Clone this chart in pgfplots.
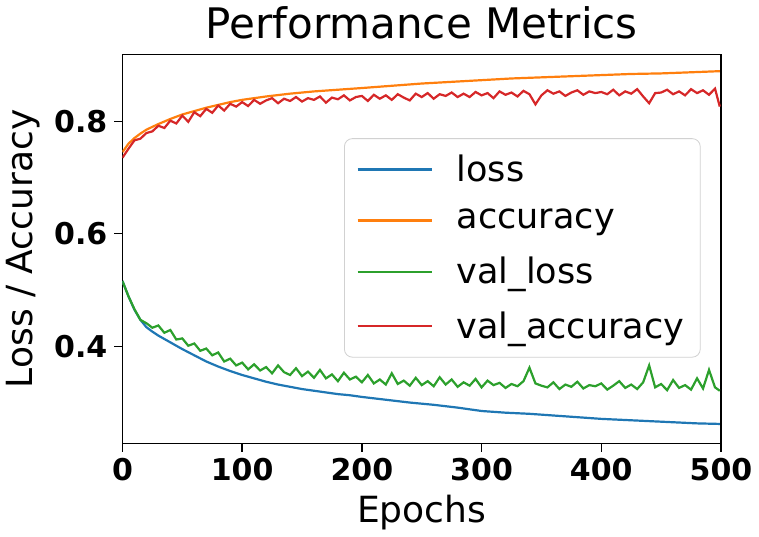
\documentclass[border=0pt]{standalone}
\usepackage{fontspec}
\setmainfont{DejaVu Sans}
\usepackage{pgfplots}
\pgfplotsset{compat=1.18}
\definecolor{tabblue}{HTML}{1F77B4}
\definecolor{taborange}{HTML}{FF7F0E}
\definecolor{tabgreen}{HTML}{2CA02C}
\definecolor{tabred}{HTML}{D62728}

\begin{document}
\begin{tikzpicture}
\begin{axis}[
    scale only axis,
    width=299pt, height=194.5pt,
    xmin=0, xmax=500,
    ymin=0.227, ymax=0.919,
    xtick={0,100,200,300,400,500},
    ytick={0.4,0.6,0.8},
    tick pos=left,
    tick align=outside,
    major tick length=4pt,
    tick style={black, line width=0.7pt},
    axis line style={line width=0.7pt},
    /pgf/number format/assume math mode=true,
    yticklabel style={/pgf/number format/fixed, /pgf/number format/precision=1, /pgf/number format/fixed zerofill},
    ticklabel style={font=\fontsize{15}{15}\selectfont\bfseries},
    title={Performance Metrics},
    title style={font=\fontsize{21}{24}\selectfont, yshift=-2pt},
    xlabel={Epochs},
    ylabel={Loss / Accuracy},
    label style={font=\fontsize{18}{20}\selectfont},
    legend style={at={(0.966,0.221)}, anchor=south east,
        font=\fontsize{17.5}{20}\selectfont,
        draw=black!18, rounded corners=4pt, fill=white, fill opacity=0.8, text opacity=1,
        row sep=8.5pt, inner xsep=6pt, inner ysep=6pt},
    legend cell align=left,
    legend image code/.code={\draw[#1] (0pt,0pt) -- (37pt,0pt); \path (47pt,0pt);},
    every axis plot/.append style={line width=1.1pt},
]

% training loss
\addplot[tabblue] coordinates {
(0,0.516) (5,0.489) (10,0.465) (15,0.447) (20,0.434) (25,0.426) (30,0.419)
(40,0.407) (50,0.395) (60,0.384) (70,0.373) (80,0.364) (90,0.356) (100,0.349)
(110,0.343) (120,0.337) (130,0.332) (140,0.328) (150,0.324) (160,0.321)
(170,0.318) (180,0.315) (190,0.313) (200,0.310) (220,0.305) (240,0.300)
(260,0.296) (280,0.291) (300,0.285) (320,0.282) (340,0.280) (360,0.277)
(380,0.274) (400,0.271) (420,0.269) (440,0.267) (460,0.265) (480,0.263) (499,0.262)
};

% training accuracy
\addplot[taborange] coordinates {
(0,0.745) (5,0.760) (10,0.770) (15,0.778) (20,0.785) (30,0.795) (40,0.804)
(50,0.812) (60,0.818) (70,0.824) (80,0.829) (90,0.834) (100,0.838) (120,0.844)
(140,0.849) (160,0.853) (180,0.856) (200,0.859) (225,0.863) (250,0.867)
(275,0.870) (300,0.873) (325,0.876) (350,0.878) (375,0.880) (400,0.882)
(425,0.884) (450,0.885) (475,0.887) (499,0.889)
};

% validation loss
\addplot[tabgreen] coordinates {
(0,0.516) (5,0.489) (10,0.466) (15,0.447) (20,0.441) (25,0.433) (30,0.437)
(35,0.424) (40,0.429) (45,0.412) (50,0.414) (55,0.401) (60,0.405) (65,0.392)
(70,0.396) (75,0.384) (80,0.389) (85,0.373) (90,0.378) (95,0.366) (100,0.371)
(105,0.359) (110,0.368) (115,0.357) (120,0.363) (125,0.352) (130,0.366)
(135,0.354) (140,0.349) (145,0.361) (150,0.347) (155,0.355) (160,0.344)
(165,0.358) (170,0.343) (175,0.350) (180,0.338) (185,0.353) (190,0.341)
(195,0.346) (200,0.336) (205,0.349) (210,0.334) (215,0.341) (220,0.332)
(225,0.352) (230,0.333) (235,0.339) (240,0.330) (245,0.344) (250,0.331)
(255,0.338) (260,0.329) (265,0.345) (270,0.332) (275,0.341) (280,0.328)
(285,0.336) (290,0.330) (295,0.342) (300,0.327) (305,0.339) (310,0.331)
(315,0.335) (320,0.326) (325,0.333) (330,0.329) (335,0.338) (340,0.362)
(345,0.334) (350,0.330) (355,0.327) (360,0.336) (365,0.324) (370,0.332)
(375,0.328) (380,0.337) (385,0.325) (390,0.331) (395,0.329) (400,0.334)
(405,0.323) (410,0.330) (415,0.338) (420,0.326) (425,0.332) (430,0.324)
(435,0.336) (440,0.366) (445,0.327) (450,0.333) (455,0.322) (460,0.340)
(465,0.326) (470,0.331) (475,0.323) (480,0.343) (485,0.325) (490,0.358)
(495,0.327) (499,0.321)
};

% validation accuracy
\addplot[tabred] coordinates {
(0,0.735) (5,0.751) (10,0.766) (15,0.769) (20,0.779) (25,0.782) (30,0.792)
(35,0.788) (40,0.801) (45,0.796) (50,0.810) (55,0.799) (60,0.816) (65,0.809)
(70,0.822) (75,0.815) (80,0.828) (85,0.819) (90,0.831) (95,0.826) (100,0.834)
(105,0.827) (110,0.838) (115,0.831) (120,0.837) (125,0.841) (130,0.832)
(135,0.840) (140,0.836) (145,0.843) (150,0.835) (155,0.841) (160,0.838)
(165,0.844) (170,0.833) (175,0.842) (180,0.839) (185,0.846) (190,0.837)
(195,0.843) (200,0.845) (205,0.836) (210,0.847) (215,0.840) (220,0.846)
(225,0.838) (230,0.848) (235,0.842) (240,0.837) (245,0.849) (250,0.843)
(255,0.850) (260,0.840) (265,0.848) (270,0.845) (275,0.851) (280,0.843)
(285,0.849) (290,0.843) (295,0.852) (300,0.846) (305,0.850) (310,0.841)
(315,0.853) (320,0.847) (325,0.851) (330,0.844) (335,0.854) (340,0.848)
(345,0.830) (350,0.846) (355,0.855) (360,0.849) (365,0.853) (370,0.845)
(375,0.851) (380,0.855) (385,0.847) (390,0.853) (395,0.850) (400,0.852)
(405,0.848) (410,0.856) (415,0.846) (420,0.853) (425,0.849) (430,0.857)
(435,0.844) (440,0.832) (445,0.850) (450,0.851) (455,0.856) (460,0.848)
(465,0.853) (470,0.846) (475,0.857) (480,0.850) (485,0.855) (490,0.847)
(495,0.858) (499,0.826)
};

\legend{loss, accuracy, val\_loss, val\_accuracy}
\end{axis}
\end{tikzpicture}
\end{document}
